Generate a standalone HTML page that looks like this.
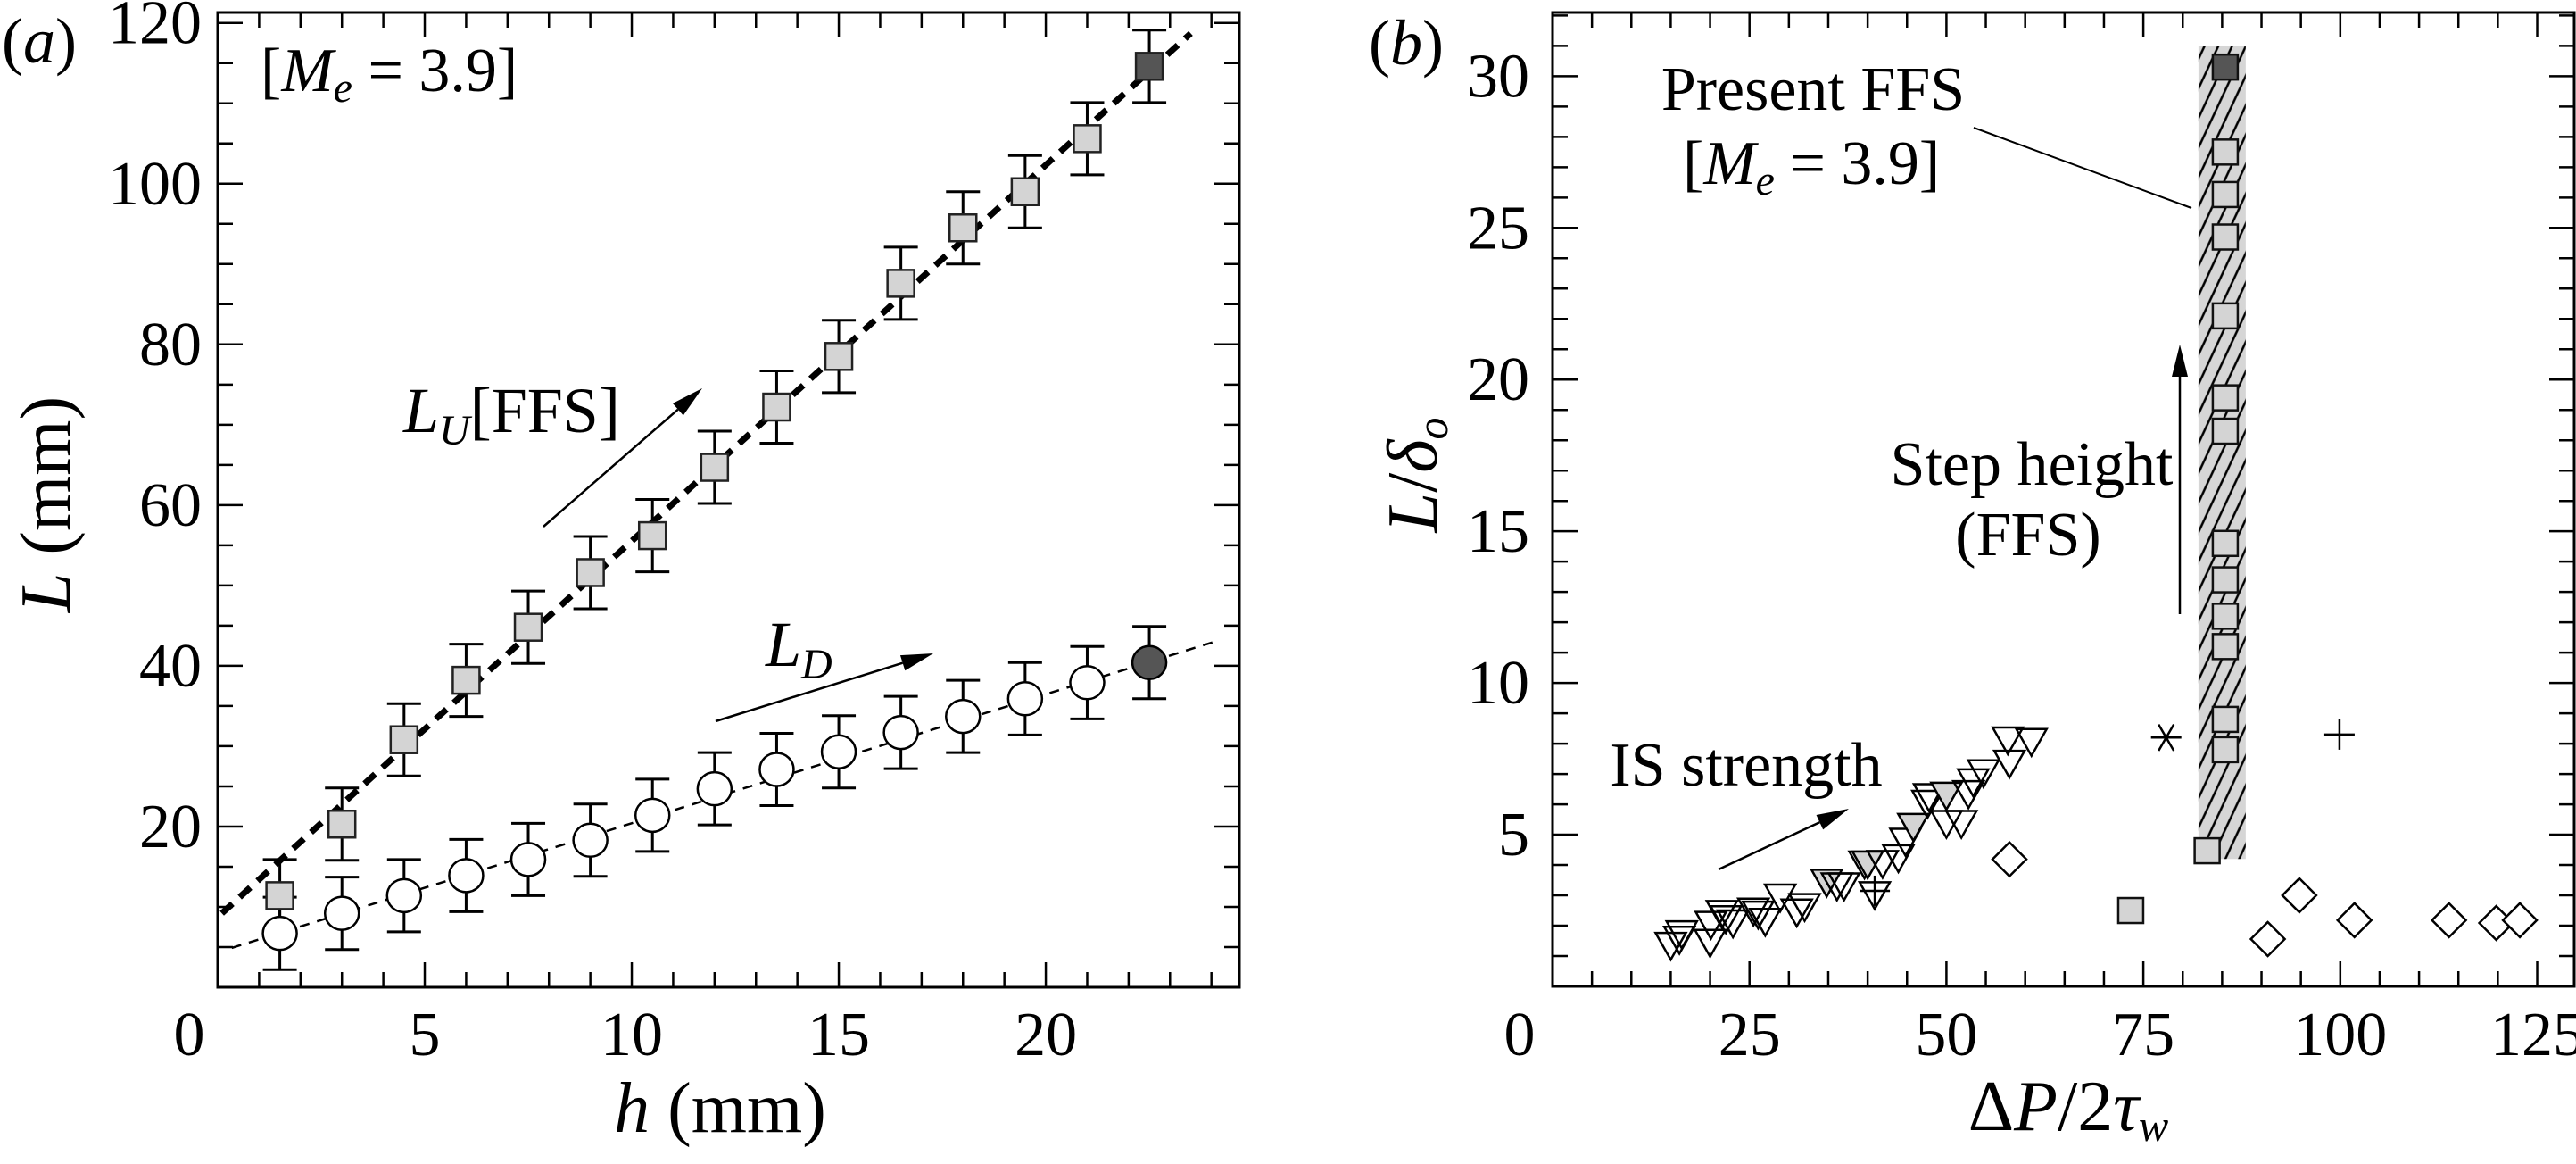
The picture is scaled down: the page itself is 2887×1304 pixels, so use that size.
<!DOCTYPE html>
<html><head><meta charset="utf-8">
<style>
html,body{margin:0;padding:0;background:#fff;}
svg{display:block;}
text{font-family:"Liberation Serif","DejaVu Serif",serif;fill:#000;}
</style></head>
<body>
<svg id="fig" width="2887" height="1304" viewBox="0 0 2887 1304" xmlns="http://www.w3.org/2000/svg" font-family="Liberation Serif, DejaVu Serif, serif">
<defs>
<pattern id="hatch" patternUnits="userSpaceOnUse" width="14" height="80" patternTransform="rotate(25)">
<rect width="14" height="80" fill="#d6d6d6"/>
<line x1="7" y1="0" x2="7" y2="80" stroke="#000" stroke-width="2.5"/>
</pattern>
</defs>
<g id="pa"></g>
<g id="pb"></g>
</svg>
<script>
// ---------- Panel (a) data ----------
const hVals = [1.5,3,4.5,6,7.5,9,10.5,12,13.5,15,16.5,18,19.5,21,22.5];
const luVals = [11.4,20.3,30.8,38.2,44.8,51.6,56.2,64.7,72.2,78.5,87.6,94.5,99.0,105.6,114.6];
const ldVals = [6.7,9.2,11.4,13.9,15.9,18.3,21.4,24.7,27.1,29.3,31.7,33.7,35.9,37.9,40.4];
const errVals = [4.5,4.5,4.5,4.5,4.5,4.5,4.5,4.5,4.5,4.5,4.5,4.5,4.5,4.5,4.5];
const luFitX = [0.1,23.5];
const luFitY = [9.2,118.7];
const ldFitX = [0.34,24.2];
const ldFitY = [4.9,43.2];
const aXTicks = [0,5,10,15,20];
const aYTicks = [20,40,60,80,100,120];

// ---------- Panel (b) data ----------
const triX = [15.0,16.1,16.4,20.0,20.1,21.5,22.0,22.9,25.5,26.1,27.0,28.9,31.0,32.0,34.8,36.1,37.0,39.6,40.0,41.9,43.9,44.8,45.8,50.0,51.9,47.6,47.8,50.0,52.8,53.4,54.7,58.0,57.8,60.8,40.9];
const triY = [1.38,1.58,1.76,1.48,2.07,2.43,2.26,2.12,2.51,2.41,2.17,2.97,2.48,2.66,3.46,3.34,3.34,4.06,4.06,4.08,4.27,4.81,5.30,5.40,5.40,6.06,6.28,6.33,6.38,6.77,7.07,7.38,8.15,8.10,3.05];
const triGray = [0,0,0,0,0,0,0,0,0,0,0,0,0,0,1,0,0,0,1,0,0,0,1,0,0,0,0,1,0,0,0,0,0,0,0];
const diaX = [58.0,90.8,94.8,101.8,113.8,119.8,122.8];
const diaY = [4.19,1.56,3.0,2.18,2.18,2.09,2.18];
const ffsX = [85.4,85.4,85.4,85.4,85.4,85.4,85.4,85.4,85.4,85.4,85.4,85.4,85.4];
const ffsY = [30.3,27.5,26.1,24.7,22.1,19.4,18.3,14.6,13.4,12.2,11.2,8.8,7.8];
const sqX = [83.1,73.4];
const sqY = [4.47,2.5];
const plusX = [40.9,99.9];
const plusY = [3.15,8.3];
const starX = [77.9];
const starY = [8.2];
const bandX = [82.0,88.0];
const bandY = [4.2,31.0];
const bXTicks = [25,50,75,100,125];
const bYTicks = [5,10,15,20,25,30];

const NS = "http://www.w3.org/2000/svg";
const FONT = '"Liberation Serif", "DejaVu Serif", serif';
function mk(parent, tag, attrs){
  const e = document.createElementNS(NS, tag);
  for (const k in attrs) e.setAttribute(k, attrs[k]);
  parent.appendChild(e);
  return e;
}
function txt(parent, x, y, s, size, anchor){
  const t = mk(parent,'text',{x:x,y:y,'font-size':size,'text-anchor':anchor||'middle'});
  t.style.fontFamily = FONT;
  t.innerHTML = s;
  return t;
}

const A = {l:244, r:1389, t:14, b:1106, x0:0, x1:24.675, y0:0, y1:121.3};
const B = {l:1740, r:2885, t:14, b:1105, x0:0, x1:129.7, y0:0, y1:32.1};
function ax(P,v){return P.l + (v-P.x0)/(P.x1-P.x0)*(P.r-P.l);}
function ay(P,v){return P.b - (v-P.y0)/(P.y1-P.y0)*(P.b-P.t);}

function frame(g,P,xMinor,xMax,yMinor,yMax,xMajStep,yMajStep){
  const f = mk(g,'rect',{x:P.l,y:P.t,width:P.r-P.l,height:P.b-P.t,fill:'none',stroke:'#000','stroke-width':3});
  
  
  for(let v=xMinor; v<=xMax+1e-9; v+=xMinor){
    const x=ax(P,v); if(x>=P.r-2) continue;
    const major = Math.abs(v/xMajStep-Math.round(v/xMajStep))<1e-6;
    const L = major?28:17;
    mk(g,'line',{x1:x,y1:P.b,x2:x,y2:P.b-L,stroke:'#000','stroke-width':2.5});
    mk(g,'line',{x1:x,y1:P.t,x2:x,y2:P.t+L,stroke:'#000','stroke-width':2.5});
  }
  for(let v=yMinor; v<=yMax+1e-9; v+=yMinor){
    const y=ay(P,v); if(y<=P.t+2) continue;
    const major = Math.abs(v/yMajStep-Math.round(v/yMajStep))<1e-6;
    const L = major?28:17;
    mk(g,'line',{x1:P.l,y1:y,x2:P.l+L,y2:y,stroke:'#000','stroke-width':2.5});
    mk(g,'line',{x1:P.r,y1:y,x2:P.r-L,y2:y,stroke:'#000','stroke-width':2.5});
  }
}
function arrow(g,x1,y1,x2,y2,name){
  const ang=Math.atan2(y2-y1,x2-x1), hl=36, hw=9;
  const bx=x2-hl*Math.cos(ang), by=y2-hl*Math.sin(ang);
  const ln=mk(g,'line',{x1:x1,y1:y1,x2:bx,y2:by,stroke:'#000','stroke-width':2.5});
  
  
  const px=-Math.sin(ang)*hw, py=Math.cos(ang)*hw;
  mk(g,'polygon',{points:`${x2},${y2} ${bx+px},${by+py} ${bx-px},${by-py}`,fill:'#000'});
}

// ================= Panel A =================
const ga = document.getElementById('pa');
frame(ga,A,1,24,5,120,5,20);
aXTicks.forEach(v=>{
  const t=txt(ga, v===0?212:ax(A,v), 1182, String(v), 70);
  
  
});
aYTicks.forEach(v=>{
  const t=txt(ga, 226, ay(A,v)+23, String(v), 70, 'end');
  
  
});
const fu=mk(ga,'line',{x1:ax(A,luFitX[0]),y1:ay(A,luFitY[0]),x2:ax(A,luFitX[1]),y2:ay(A,luFitY[1]),stroke:'#000','stroke-width':7,'stroke-dasharray':'16 11'});


const fd=mk(ga,'line',{x1:ax(A,ldFitX[0]),y1:ay(A,ldFitY[0]),x2:ax(A,ldFitX[1]),y2:ay(A,ldFitY[1]),stroke:'#000','stroke-width':2.5,'stroke-dasharray':'11 9'});


function errbar(g,x,y,e){
  const yt=ay(A,y+e), yb=ay(A,y-e);
  mk(g,'line',{x1:x,y1:yt,x2:x,y2:yb,stroke:'#000','stroke-width':3});
  mk(g,'line',{x1:x-19,y1:yt,x2:x+19,y2:yt,stroke:'#000','stroke-width':3});
  mk(g,'line',{x1:x-19,y1:yb,x2:x+19,y2:yb,stroke:'#000','stroke-width':3});
}
hVals.forEach((h,i)=>{
  const x=ax(A,h);
  errbar(ga,x,luVals[i],errVals[i]);
  errbar(ga,x,ldVals[i],errVals[i]);
  const last = i===hVals.length-1;
  const s=mk(ga,'rect',{x:x-15,y:ay(A,luVals[i])-15,width:30,height:30,fill:last?'#555':'#d4d4d4',stroke:'#222','stroke-width':2.5});
  
  
  const c=mk(ga,'ellipse',{cx:x,cy:ay(A,ldVals[i]),rx:19,ry:18.5,fill:last?'#555':'#fff',stroke:'#000','stroke-width':2.5});
  
  
});
arrow(ga,609,590,787,435,'lu-arrow');
arrow(ga,802,808,1046,732,'ld-arrow');
let t;
t=txt(ga,452,484,'<tspan font-style="italic">L</tspan><tspan font-style="italic" font-size="48" dy="14">U</tspan><tspan dy="-14">[FFS]</tspan>',72,'start');
 
t=txt(ga,858,746,'<tspan font-style="italic">L</tspan><tspan font-style="italic" font-size="48" dy="14">D</tspan>',72,'start');
 
t=txt(ga,292,102,'[<tspan font-style="italic">M</tspan><tspan font-style="italic" font-size="48" dy="12">e</tspan><tspan dy="-12"> = 3.9]</tspan>',70,'start');
 
t=txt(ga,2,70,'(<tspan font-style="italic">a</tspan>)',72,'start');
 
t=txt(ga,807,1268,'<tspan font-style="italic">h</tspan>  (mm)',80);
 
t=txt(ga,0,0,'<tspan font-style="italic">L</tspan>  (mm)',80);
t.setAttribute('transform','translate(78,565) rotate(-90)');
 

// ================= Panel B =================
const gb = document.getElementById('pb');
const band=mk(gb,'rect',{x:ax(B,bandX[0]),y:ay(B,bandY[1]),width:ax(B,bandX[1])-ax(B,bandX[0]),height:ay(B,bandY[0])-ay(B,bandY[1]),fill:'url(#hatch)'});


frame(gb,B,5,129,1,32,25,5);
bXTicks.forEach(v=>{
  const t=txt(gb, ax(B,v), 1182, String(v), 70);
  
  
});
t=txt(gb,1703,1182,'0',70);
 
bYTicks.forEach(v=>{
  const t=txt(gb, 1714, ay(B,v)+23, String(v), 70, 'end');
  
  
});
triX.forEach((v,i)=>{
  const x=ax(B,v), y=ay(B,triY[i]);
  const p=mk(gb,'polygon',{points:`${x-17},${y-13} ${x+17},${y-13} ${x},${y+17}`,fill:triGray[i]?'#d4d4d4':'none',stroke:'#000','stroke-width':2.5});
  
  
});
diaX.forEach((v,i)=>{
  const x=ax(B,v), y=ay(B,diaY[i]);
  const p=mk(gb,'polygon',{points:`${x},${y-19} ${x+19},${y} ${x},${y+19} ${x-19},${y}`,fill:'#fff',stroke:'#000','stroke-width':2.5});
  
  
});
ffsX.forEach((v,i)=>{
  const x=ax(B,v), y=ay(B,ffsY[i]);
  const s=mk(gb,'rect',{x:x-14,y:y-14,width:28,height:28,fill:i===0?'#555':'#d4d4d4',stroke:'#111','stroke-width':2.5});
  
  
});
sqX.forEach((v,i)=>{
  const x=ax(B,v), y=ay(B,sqY[i]);
  const s=mk(gb,'rect',{x:x-14,y:y-14,width:28,height:28,fill:'#d4d4d4',stroke:'#111','stroke-width':2.5});
  
  
});
plusX.forEach((v,i)=>{
  const x=ax(B,v), y=ay(B,plusY[i]);
  const g=mk(gb,'g',{});
  
  
  mk(g,'line',{x1:x-17,y1:y,x2:x+17,y2:y,stroke:'#000','stroke-width':2.5});
  mk(g,'line',{x1:x,y1:y-17,x2:x,y2:y+17,stroke:'#000','stroke-width':2.5});
});
starX.forEach((v,i)=>{
  const x=ax(B,v), y=ay(B,starY[i]);
  const g=mk(gb,'g',{});
  
  
  for(let k=0;k<3;k++){
    const a=k*Math.PI/3;
    mk(g,'line',{x1:x-17*Math.cos(a),y1:y-17*Math.sin(a),x2:x+17*Math.cos(a),y2:y+17*Math.sin(a),stroke:'#000','stroke-width':2.5});
  }
});
arrow(gb,1926,974,2072,906,'is-arrow');
arrow(gb,2443,688,2443,386,'step-arrow');
const ld=mk(gb,'line',{x1:2212,y1:143,x2:2456,y2:233,stroke:'#000','stroke-width':2});
 
t=txt(gb,2032,123,'Present FFS',70);
 
t=txt(gb,1886,206,'[<tspan font-style="italic">M</tspan><tspan font-style="italic" font-size="48" dy="12">e</tspan><tspan dy="-12"> = 3.9]</tspan>',70,'start');
 
t=txt(gb,2277,543,'Step height',70);
 
t=txt(gb,2273,622,'(FFS)',70);
 
t=txt(gb,1957,880,'IS strength',70);
 
t=txt(gb,1534,72,'(<tspan font-style="italic">b</tspan>)',72,'start');
 
t=txt(gb,2318,1266,'Δ<tspan font-style="italic">P</tspan>/2<tspan font-style="italic">τ</tspan><tspan font-style="italic" font-size="50" dy="12">w</tspan>',80);
 
t=txt(gb,0,0,'<tspan font-style="italic">L</tspan>/<tspan font-style="italic">δ</tspan><tspan font-style="italic" font-size="50" dy="12">o</tspan>',80);
t.setAttribute('transform','translate(1610,532) rotate(-90)');
 
</script>
</body></html>
